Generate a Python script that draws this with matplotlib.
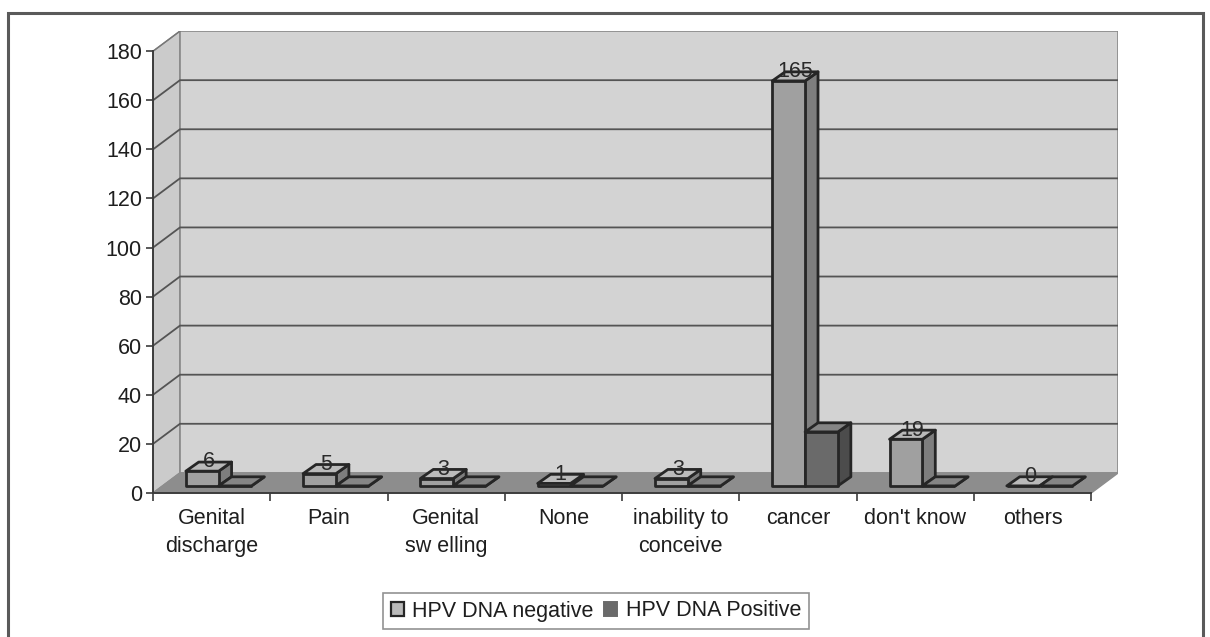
import matplotlib.pyplot as plt
from matplotlib.patches import Polygon, Rectangle, Patch

plt.rcParams['font.family'] = ['Liberation Sans', 'DejaVu Sans']

categories = ['Genital\ndischarge', 'Pain', 'Genital\nsw elling', 'None',
              'inability to\nconceive', 'cancer', "don't know", 'others']
hpv_negative = [6, 5, 3, 1, 3, 165, 19, 0]
hpv_positive = [0, 0, 0, 0, 0, 22, 0, 0]
y_ticks = [0, 20, 40, 60, 80, 100, 120, 140, 160, 180]
series_names = ['HPV DNA negative', 'HPV DNA Positive']

# depth of the box and of the columns, in category / value units
wall_dx, wall_dy = 0.23, 8.2
bar_off_x, bar_off_y = 0.06, 2.9
bar_dx, bar_dy = 0.11, 3.7
bar_w = 0.28
y_max = 180

neg_faces = ('#a0a0a0', '#bababa', '#7e7e7e')   # front, top, side
pos_faces = ('#6a6a6a', '#858585', '#4c4c4c')
edge = '#262626'
text_col = '#1e1e1e'

fig = plt.figure(figsize=(12.1, 6.37), dpi=100)
ax = fig.add_axes([153 / 1210, 144 / 637, 8.25 * 117 / 1210, 189 * 2.444 / 637])
ax.set_xlim(0, len(categories) + wall_dx)
ax.set_ylim(0, y_max + wall_dy)

n = len(categories)

# side wall, back wall and floor
ax.add_patch(Polygon([(0, 0), (0, y_max), (wall_dx, y_max + wall_dy), (wall_dx, wall_dy)],
                     closed=True, facecolor='#cbcbcb', edgecolor='#888888', lw=1, zorder=1))
ax.add_patch(Rectangle((wall_dx, wall_dy), n, y_max, facecolor='#d3d3d3',
                       edgecolor='#888888', lw=1.2, zorder=1))
for v in y_ticks[1:-1]:
    ax.plot([0, wall_dx, n + wall_dx], [v, v + wall_dy, v + wall_dy],
            color='#545454', lw=1.3, zorder=2)
ax.plot([0, wall_dx], [y_max, y_max + wall_dy], color='#777777', lw=1, zorder=2)
ax.add_patch(Polygon([(0, 0), (n, 0), (n + wall_dx, wall_dy), (wall_dx, wall_dy)],
                     closed=True, facecolor='#8d8d8d', edgecolor='#8d8d8d', lw=1, zorder=3))


def draw_column(x0, h, faces):
    y0 = bar_off_y
    front = [(x0, y0), (x0 + bar_w, y0), (x0 + bar_w, y0 + h), (x0, y0 + h)]
    top = [(x0, y0 + h), (x0 + bar_w, y0 + h),
           (x0 + bar_w + bar_dx, y0 + h + bar_dy), (x0 + bar_dx, y0 + h + bar_dy)]
    side = [(x0 + bar_w, y0), (x0 + bar_w + bar_dx, y0 + bar_dy),
            (x0 + bar_w + bar_dx, y0 + h + bar_dy), (x0 + bar_w, y0 + h)]
    for pts, fc in zip((side, top, front), (faces[2], faces[1], faces[0])):
        ax.add_patch(Polygon(pts, closed=True, facecolor=fc, edgecolor=edge,
                             lw=2, joinstyle='round', zorder=4))


for i in range(n):
    centre = i + 0.5 + bar_off_x
    draw_column(centre - bar_w, hpv_negative[i], neg_faces)
    draw_column(centre, hpv_positive[i], pos_faces)
    ax.text(centre - bar_w / 2 + bar_dx / 2, hpv_negative[i] + bar_off_y + 1.5,
            str(hpv_negative[i]), ha='center', va='baseline', fontsize=15.5,
            color='#2a2a2a', zorder=6)

# axes: value axis on the left, category axis along the front floor edge
for s in ('top', 'right'):
    ax.spines[s].set_visible(False)
ax.spines['left'].set_bounds(0, y_max)
ax.spines['bottom'].set_bounds(0, n)
for s in ('left', 'bottom'):
    ax.spines[s].set_color('#3c3c3c')
    ax.spines[s].set_linewidth(1.4)
    ax.spines[s].set_zorder(5)
ax.set_yticks(y_ticks)
ax.tick_params(axis='y', direction='out', length=5, width=1.2, color='#3c3c3c',
               labelsize=15.5, labelcolor=text_col, pad=3)
ax.set_xticks(range(n + 1))
ax.set_xticklabels([])
ax.set_xticks([i + 0.5 for i in range(n)], minor=True)
ax.set_xticklabels(categories, minor=True, fontsize=15.5, color=text_col,
                   linespacing=1.45, va='top')
ax.tick_params(axis='x', which='major', direction='out', length=6, width=1.2,
               color='#3c3c3c')
ax.tick_params(axis='x', which='minor', length=0, pad=11)
ax.set_facecolor('none')

handles = [Patch(facecolor=neg_faces[1], edgecolor=edge, lw=1.6),
           Patch(facecolor=pos_faces[0], edgecolor=pos_faces[0], lw=1.4)]
leg = fig.legend(handles, series_names, loc='center', ncol=2,
                 bbox_to_anchor=(596 / 1210, 1 - 611 / 637), fontsize=15.5,
                 frameon=True, fancybox=False, edgecolor='#777777',
                 handlelength=0.6, handleheight=0.6, handletextpad=0.4,
                 columnspacing=0.5, borderpad=0.35, labelcolor=text_col)
leg.get_frame().set_linewidth(1.2)

# outer chart border
fig.add_artist(Rectangle((8 / 1210, -0.05), 1195 / 1210, 1.05 - 13 / 637,
                         transform=fig.transFigure, fill=False,
                         edgecolor='#5a5a5a', lw=2.2, clip_on=False))

fig.savefig('out.png', dpi=100, facecolor='white')
